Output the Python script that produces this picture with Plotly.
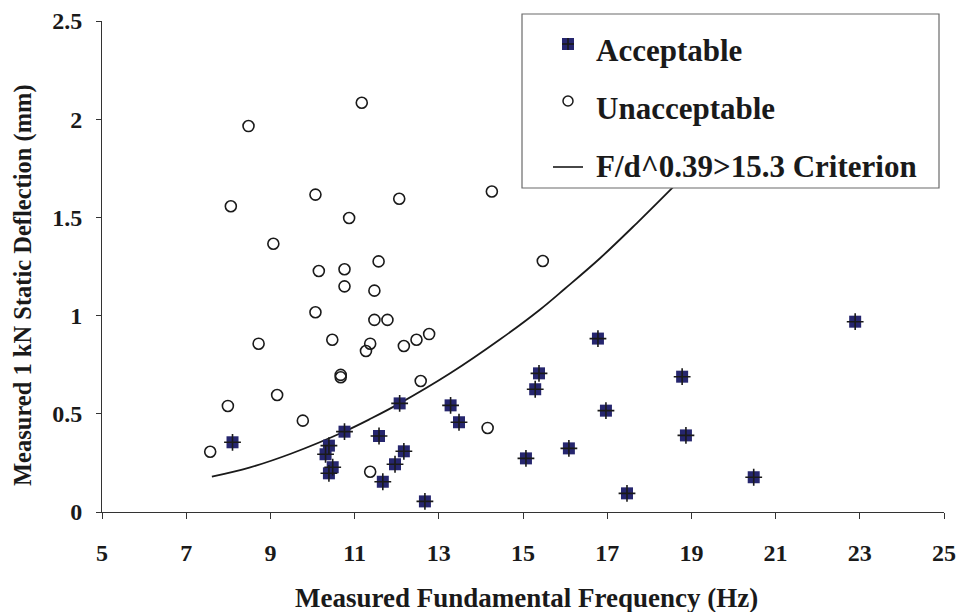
import plotly.graph_objects as go

# ---- data ----
acc_x = [8.10, 10.76, 10.39, 10.31, 10.48, 10.39, 11.58, 12.07, 12.17, 11.96, 11.67, 12.67,
         13.28, 13.48, 16.78, 15.38, 15.29, 18.78, 16.97, 18.87, 16.09, 15.07, 17.47, 20.48, 22.89]
acc_y = [0.355, 0.409, 0.338, 0.294, 0.228, 0.197, 0.387, 0.553, 0.309, 0.243, 0.154, 0.054,
         0.543, 0.457, 0.883, 0.706, 0.625, 0.689, 0.516, 0.390, 0.324, 0.273, 0.095, 0.177, 0.969]

unacc_x = [11.17, 8.48, 10.07, 8.06, 12.06, 10.87, 9.07, 11.57, 10.15, 10.76, 10.76, 11.47,
           10.07, 11.47, 11.78, 10.47, 11.37, 11.27, 12.17, 12.47, 12.77, 8.72, 10.67, 10.67,
           12.57, 7.99, 9.16, 9.77, 7.57, 11.37, 14.16, 14.26, 15.47]
unacc_y = [2.084, 1.965, 1.616, 1.557, 1.595, 1.497, 1.366, 1.276, 1.227, 1.236, 1.149, 1.127,
           1.017, 0.978, 0.978, 0.877, 0.857, 0.820, 0.845, 0.877, 0.906, 0.857, 0.698, 0.686,
           0.667, 0.540, 0.596, 0.465, 0.307, 0.205, 0.428, 1.632, 1.278]

crit_x = [7.61, 8.5, 9.5, 10.76, 11.4, 12.07, 13.27, 14.45, 15.40, 16.0, 16.83, 17.70, 18.57, 19.0]
crit_y = [0.180, 0.226, 0.298, 0.410, 0.477, 0.553, 0.706, 0.878, 1.030, 1.138, 1.292, 1.470, 1.655, 1.750]

x_ticks = [5, 7, 9, 11, 13, 15, 17, 19, 21, 23, 25]
y_ticks = [0, 0.5, 1, 1.5, 2, 2.5]
y_tick_text = ["0", "0.5", "1", "1.5", "2", "2.5"]

legend_names = ["Acceptable", "Unacceptable", "F/d^0.39>15.3 Criterion"]
x_title = "Measured Fundamental Frequency (Hz)"
y_title = "Measured 1 kN Static Deflection (mm)"

# ---- styling ----
W, H = 956, 612
ML, MR, MT, MB = 102, 12, 21, 100
PW, PH = W - ML - MR, H - MT - MB
FONT = "Liberation Serif"
NAVY = "#26266e"
INK = "#1a1a1a"


def px(x):
    return (x - ML) / PW


def py(y):
    return (H - MB - y) / PH


fig = go.Figure()

fig.add_trace(go.Scatter(x=crit_x, y=crit_y, mode="lines",
                         line=dict(color=INK, width=1.8, shape="spline", smoothing=1.0),
                         showlegend=False, hoverinfo="skip", cliponaxis=False))
fig.add_trace(go.Scatter(x=unacc_x, y=unacc_y, mode="markers",
                         marker=dict(symbol="circle-open", size=11, color=INK, line=dict(width=1.6, color=INK)),
                         showlegend=False))
fig.add_trace(go.Scatter(x=acc_x, y=acc_y, mode="markers",
                         marker=dict(symbol="square", size=12, color=NAVY, line=dict(width=0)),
                         showlegend=False))
fig.add_trace(go.Scatter(x=acc_x, y=acc_y, mode="markers",
                         marker=dict(symbol="cross-thin-open", size=12, color=INK, line=dict(width=1.6, color=INK)),
                         showlegend=False, hoverinfo="skip"))

shapes = []
# legend box
shapes.append(dict(type="rect", xref="paper", yref="paper", x0=px(522), x1=px(939), y0=py(188), y1=py(14),
                   line=dict(color="#6a6a6a", width=1.2), fillcolor="white", layer="above"))
# legend glyphs
shapes.append(dict(type="rect", xref="paper", yref="paper", x0=px(562), x1=px(574), y0=py(50), y1=py(38),
                   line=dict(width=0), fillcolor=NAVY, layer="above"))
shapes.append(dict(type="line", xref="paper", yref="paper", x0=px(562), x1=px(574), y0=py(44), y1=py(44),
                   line=dict(color=INK, width=1.6), layer="above"))
shapes.append(dict(type="line", xref="paper", yref="paper", x0=px(568), x1=px(568), y0=py(50), y1=py(38),
                   line=dict(color=INK, width=1.6), layer="above"))
shapes.append(dict(type="circle", xref="paper", yref="paper", x0=px(563), x1=px(573), y0=py(106), y1=py(96),
                   line=dict(color=INK, width=1.5), layer="above"))
shapes.append(dict(type="line", xref="paper", yref="paper", x0=px(553), x1=px(583), y0=py(167), y1=py(167),
                   line=dict(color=INK, width=1.6), layer="above"))

annotations = []
for name, yy in zip(legend_names, [51, 109, 166]):
    annotations.append(dict(text=name, xref="paper", yref="paper", x=px(594), y=py(yy),
                            xanchor="left", yanchor="middle", showarrow=False,
                            font=dict(family=FONT, size=31, color=INK, weight="bold")))
annotations.append(dict(text=x_title, xref="paper", yref="paper", x=px(526), y=py(598),
                        xanchor="center", yanchor="middle", showarrow=False,
                        font=dict(family=FONT, size=27, color=INK, weight="bold")))
annotations.append(dict(text=y_title, xref="paper", yref="paper", x=px(23), y=py(285),
                        xanchor="center", yanchor="middle", showarrow=False, textangle=-90,
                        font=dict(family=FONT, size=24.5, color=INK, weight="bold")))

fig.update_layout(
    width=W, height=H,
    margin=dict(l=ML, r=MR, t=MT, b=MB, pad=0, autoexpand=False),
    paper_bgcolor="white", plot_bgcolor="white",
    showlegend=False,
    shapes=shapes, annotations=annotations,
    font=dict(family=FONT, color=INK),
    xaxis=dict(range=[5, 25], tickvals=x_ticks, ticks="outside", ticklen=6, tickwidth=1, tickcolor="#333",
               showline=True, linecolor="#333", linewidth=1, showgrid=False, zeroline=False, automargin=False,
               tickfont=dict(family=FONT, size=24, color=INK, weight="bold"), ticklabelstandoff=13),
    yaxis=dict(range=[0, 2.5], tickvals=y_ticks, ticktext=y_tick_text, ticks="outside", ticklen=5, tickwidth=1,
               tickcolor="#333", showline=True, linecolor="#333", linewidth=1, showgrid=False, zeroline=False,
               automargin=False,
               tickfont=dict(family=FONT, size=24, color=INK, weight="bold"), ticklabelstandoff=9),
)

fig.write_html("out.html")
